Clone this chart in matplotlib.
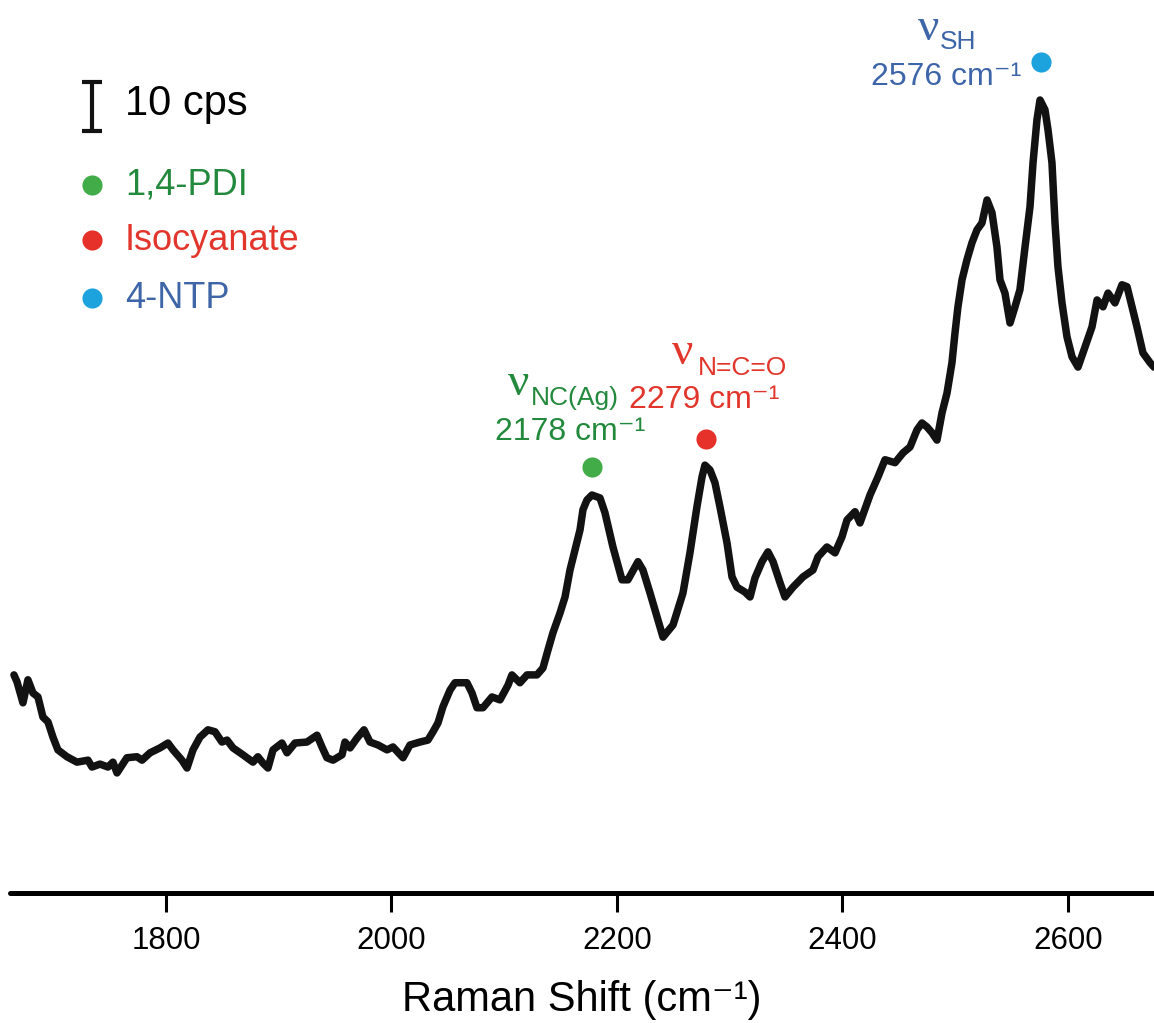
import matplotlib
matplotlib.use("Agg")
import matplotlib.pyplot as plt
from matplotlib import font_manager

# spectrum (Raman shift in cm-1, intensity in cps, arbitrary zero)
shift = [1665.2, 1667.9, 1673.2, 1677.6, 1682.1, 1686.5, 1690.9, 1695.4, 1699.8, 1704.2,
         1712.2, 1721.1, 1730.9, 1734.4, 1741.5, 1748.6, 1753.0, 1756.6, 1765.4, 1774.3,
         1778.8, 1785.9, 1794.7, 1801.8, 1806.3, 1814.2, 1818.7, 1824.0, 1830.2, 1837.3,
         1843.5, 1849.7, 1854.2, 1859.5, 1868.3, 1877.2, 1881.6, 1886.1, 1890.5, 1895.0,
         1902.9, 1907.4, 1914.5, 1925.1, 1934.0, 1938.4, 1942.8, 1948.2, 1956.2, 1958.8,
         1963.3, 1969.5, 1975.7, 1981.0, 1988.1, 1996.1, 2001.4, 2010.3, 2016.5, 2025.3,
         2032.4, 2036.9, 2041.3, 2045.7, 2052.0, 2056.4, 2067.0, 2071.5, 2075.9, 2081.2,
         2089.2, 2096.3, 2103.4, 2106.9, 2114.0, 2120.3, 2129.1, 2134.4, 2138.9, 2143.3,
         2149.5, 2154.0, 2158.4, 2162.8, 2167.3, 2169.9, 2173.5, 2177.9, 2185.0, 2189.4,
         2196.5, 2204.5, 2209.8, 2218.7, 2223.1, 2229.4, 2236.4, 2240.9, 2249.8, 2258.6,
         2264.8, 2271.0, 2275.5, 2278.1, 2282.6, 2287.0, 2291.4, 2297.7, 2302.1, 2306.5,
         2313.6, 2318.1, 2322.5, 2328.7, 2334.0, 2338.5, 2344.7, 2349.1, 2356.2, 2365.1,
         2373.9, 2378.4, 2386.3, 2393.5, 2399.7, 2404.1, 2411.2, 2415.6, 2424.5, 2431.6,
         2437.8, 2446.7, 2453.8, 2460.0, 2466.2, 2470.6, 2475.0, 2479.5, 2483.9, 2488.4,
         2492.8, 2497.2, 2499.9, 2502.5, 2506.1, 2510.5, 2515.0, 2519.4, 2523.8, 2528.3,
         2532.7, 2537.1, 2539.8, 2544.2, 2548.7, 2553.1, 2557.5, 2562.0, 2566.4, 2569.1,
         2572.6, 2575.3, 2579.7, 2582.4, 2585.9, 2588.6, 2591.2, 2594.8, 2599.2, 2603.7,
         2609.0, 2615.2, 2621.4, 2625.9, 2631.2, 2635.6, 2641.8, 2648.0, 2652.5, 2656.9,
         2661.3, 2666.6, 2672.9, 2676.4]
cps = [44.5, 43.1, 38.8, 43.5, 40.8, 40.0, 35.9, 34.9, 31.8, 29.2,
       27.8, 26.7, 27.1, 25.7, 26.3, 25.7, 26.7, 24.5, 27.6, 27.8,
       27.1, 28.6, 29.6, 30.6, 29.2, 27.1, 25.5, 29.2, 31.8, 33.3,
       32.9, 30.8, 31.2, 29.6, 28.2, 26.7, 27.8, 26.5, 25.5, 29.2,
       30.6, 28.6, 30.6, 30.8, 32.2, 29.8, 27.6, 27.1, 28.2, 30.8,
       29.6, 31.6, 33.3, 30.8, 30.2, 29.2, 29.8, 27.6, 30.2, 30.8,
       31.2, 32.9, 34.7, 38.0, 41.4, 42.9, 42.9, 40.8, 37.8, 37.8,
       40.0, 39.4, 42.4, 44.5, 42.9, 44.5, 44.5, 45.9, 49.6, 53.1,
       57.1, 60.4, 65.9, 70.0, 74.1, 78.2, 80.2, 81.2, 80.6, 77.6,
       70.6, 63.9, 63.9, 67.6, 65.9, 61.2, 55.7, 52.2, 54.7, 61.2,
       69.4, 78.8, 84.9, 87.3, 86.3, 83.7, 78.8, 71.4, 64.5, 62.4,
       61.4, 60.4, 64.3, 67.6, 69.6, 67.6, 63.3, 60.4, 62.4, 64.5,
       65.9, 68.6, 70.6, 69.4, 72.7, 76.1, 77.8, 75.5, 81.2, 84.9,
       88.4, 87.8, 89.8, 91.0, 94.5, 95.9, 95.1, 93.9, 92.4, 98.0,
       102.0, 108.2, 114.3, 119.6, 125.1, 129.2, 132.7, 135.3, 136.7, 141.4,
       138.8, 131.8, 125.1, 122.4, 116.3, 119.6, 123.1, 131.8, 140.0, 149.0,
       157.8, 161.8, 159.8, 155.7, 149.0, 136.7, 127.8, 120.4, 113.5, 109.4,
       107.3, 111.4, 115.5, 121.0, 119.6, 122.4, 120.4, 124.1, 123.7, 119.6,
       115.5, 110.2, 108.2, 107.3]

# assigned peaks
peak_pos = [2178, 2279, 2576]
peak_dot_y = [86.9, 92.7, 169.6]
peak_sub = ["NC(Ag)", "N=C=O", "SH"]
peak_text = ["#23893c", "#e2362c", "#3d65a8"]
peak_dot = ["#42ad48", "#e6312a", "#1ca2dc"]
legend_names = ["1,4-PDI", "Isocyanate", "4-NTP"]

xticks = [1800, 2000, 2200, 2400, 2600]

names = {f.name for f in font_manager.fontManager.ttflist}
tick_font = "Liberation Sans Narrow" if "Liberation Sans Narrow" in names else "Liberation Sans"
sans = ['Liberation Sans', 'DejaVu Sans']
plt.rcParams['font.family'] = sans

fig = plt.figure(figsize=(11.54, 10.23), dpi=100)
ax = fig.add_axes([10 / 1154, 130 / 1023, 1144 / 1154, 893 / 1023])
ax.plot(shift, cps, color="#121212", lw=5.4, solid_joinstyle="round", solid_capstyle="round")
ax.set_xlim(1661.7, 2676.4)
ax.set_ylim(0, 182.2)

for s in ["left", "right", "top"]:
    ax.spines[s].set_visible(False)
ax.spines["bottom"].set_linewidth(3.6)
ax.spines["bottom"].set_capstyle("round")
ax.set_yticks([])
ax.set_xticks(xticks)
ax.tick_params(axis="x", direction="out", length=14, width=2.2, pad=10)
for lab in ax.get_xticklabels():
    lab.set_fontfamily([tick_font, 'DejaVu Sans'])
    lab.set_fontsize(22.5)
ax.set_xlabel("Raman Shift (cm⁻¹)", fontsize=30, labelpad=17)

# peak markers and labels
off_num = [(-16, 25), (-1, 28), (-14, -11)]
off_nu = [(-53, 60), (-17, 62), (-81, 24)]
off_sub = [(-44, 50), (-6, 51), (-73, 14)]
for i in range(3):
    ax.plot(peak_pos[i], peak_dot_y[i], "o", ms=14.5, color=peak_dot[i], mec="none")
    ha = "right" if i == 2 else "center"
    ax.annotate(f"{peak_pos[i]} cm⁻¹", (peak_pos[i], peak_dot_y[i]), xytext=off_num[i],
                textcoords="offset points", ha=ha, va="center", fontsize=23, color=peak_text[i])
    ax.annotate("ν", (peak_pos[i], peak_dot_y[i]), xytext=off_nu[i], textcoords="offset points",
                ha="center", va="center", fontsize=34, color=peak_text[i],
                family=["Liberation Serif", "DejaVu Serif"])
    ax.annotate(peak_sub[i], (peak_pos[i], peak_dot_y[i]), xytext=off_sub[i],
                textcoords="offset points", ha="left", va="center", fontsize=19, color=peak_text[i])

# scale bar and key
ax.errorbar([1734.4], [160.5], yerr=[5], color="#121212", lw=3.0, capsize=7.5, capthick=3.0)
ax.text(0.1005, 0.883, "10 cps", transform=ax.transAxes, fontsize=30, va="center", ha="left")
key_y = [0.793, 0.731, 0.666]
for i in range(3):
    ax.plot([0.0717], [key_y[i]], "o", ms=14.5, color=peak_dot[i], mec="none", transform=ax.transAxes)
    ax.text(0.1005, key_y[i], legend_names[i], transform=ax.transAxes, fontsize=26,
            va="center", ha="left", color=peak_text[i])

fig.savefig("out.png", dpi=100)
